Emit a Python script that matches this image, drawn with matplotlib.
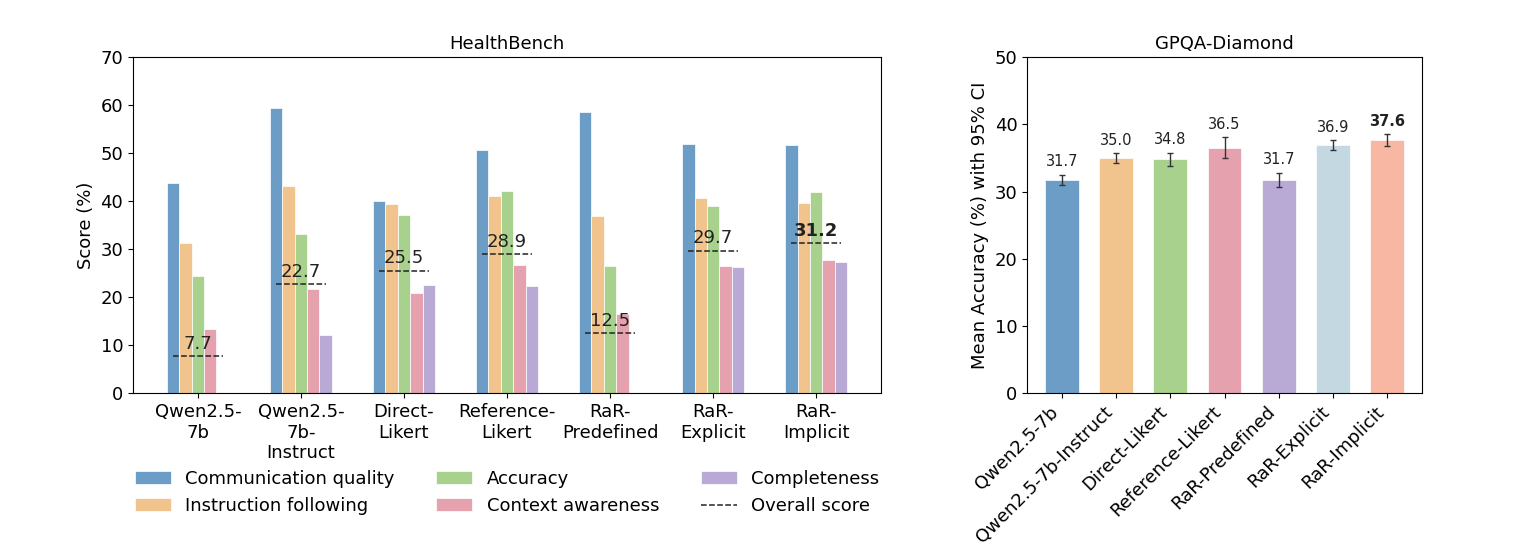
import matplotlib
matplotlib.use("Agg")
import matplotlib.pyplot as plt
import numpy as np

# Données HealthBench (score par critère, en %)
models_hb = ["Qwen2.5-\n7b", "Qwen2.5-\n7b-\nInstruct", "Direct-\nLikert", "Reference-\nLikert",
             "RaR-\nPredefined", "RaR-\nExplicit", "RaR-\nImplicit"]
criteria = ["Communication quality", "Instruction following", "Accuracy",
            "Context awareness", "Completeness"]
communication = [43.8, 59.5, 40.1, 50.7, 58.5, 52.0, 51.7]
instruction = [31.2, 43.1, 39.3, 41.1, 37.0, 40.7, 39.7]
accuracy = [24.5, 33.2, 37.2, 42.2, 26.5, 39.0, 42.0]
context = [13.3, 21.7, 20.9, 26.7, 16.4, 26.5, 27.8]
completeness = [0.0, 12.2, 22.6, 22.4, 0.0, 26.2, 27.4]
overall = [7.7, 22.7, 25.5, 28.9, 12.5, 29.7, 31.2]

# Données GPQA-Diamond
models_gpqa = ["Qwen2.5-7b", "Qwen2.5-7b-Instruct", "Direct-Likert", "Reference-Likert",
               "RaR-Predefined", "RaR-Explicit", "RaR-Implicit"]
gpqa_mean = [31.7, 35.0, 34.8, 36.5, 31.7, 36.9, 37.6]
gpqa_err = [0.8, 0.75, 1.0, 1.55, 1.1, 0.7, 0.9]

colors = ["#6b9dc7", "#f2c48d", "#a9d18e", "#e6a1af", "#b8a9d5", "#c3d8e0", "#f7b7a3"]

plt.rcParams["font.size"] = 13

fig = plt.figure(figsize=(15.2, 5.6), dpi=100)
ax1 = fig.add_axes([0.0875, 0.298, 0.4921, 0.600])
ax2 = fig.add_axes([0.6757, 0.298, 0.2598, 0.600])

# Graphique HealthBench
x = np.arange(len(models_hb))
w = 0.12
series = [communication, instruction, accuracy, context, completeness]
bar_handles = []
for i, (name, vals) in enumerate(zip(criteria, series)):
    b = ax1.bar(x + (i - 2) * w, vals, w, color=colors[i], edgecolor="white",
                linewidth=0.5, label=name)
    bar_handles.append(b)

line_handle = None
for i, v in enumerate(overall):
    h = ax1.hlines(v, x[i] - 0.24, x[i] + 0.24, colors="#222222", linestyles="--",
                   linewidth=1.1, label="Overall score")
    if line_handle is None:
        line_handle = h
    ax1.text(x[i], v + 0.7, f"{v:.1f}", ha="center", va="bottom", fontsize=13,
             color="#222222", fontweight="bold" if i == len(overall) - 1 else "normal")

ax1.set_xticks(x)
ax1.set_xticklabels(models_hb)
ax1.set_ylim(0, 70)
ax1.set_ylabel("Score (%)")
ax1.set_title("HealthBench", fontsize=13)
ax1.legend(bar_handles + [line_handle], criteria + ["Overall score"],
           loc="upper center", bbox_to_anchor=(0.5, -0.18),
           ncol=3, frameon=False, columnspacing=2.3)

# Graphique GPQA-Diamond
x2 = np.arange(len(models_gpqa))
ax2.bar(x2, gpqa_mean, 0.62, yerr=gpqa_err, color=colors, edgecolor="white",
        linewidth=0.5, capsize=2.5, error_kw={"elinewidth": 1, "ecolor": "#333333"})
for i, (m, e) in enumerate(zip(gpqa_mean, gpqa_err)):
    ax2.text(x2[i], m + e + 0.8, f"{m:.1f}", ha="center", va="bottom", fontsize=10.5,
             color="#222222", fontweight="bold" if i == len(gpqa_mean) - 1 else "normal")

ax2.set_xticks(x2)
ax2.set_xticklabels(models_gpqa, rotation=45, ha="right")
ax2.set_ylim(0, 50)
ax2.set_ylabel("Mean Accuracy (%) with 95% CI")
ax2.set_title("GPQA-Diamond", fontsize=13)

plt.savefig("out.png", dpi=100)
